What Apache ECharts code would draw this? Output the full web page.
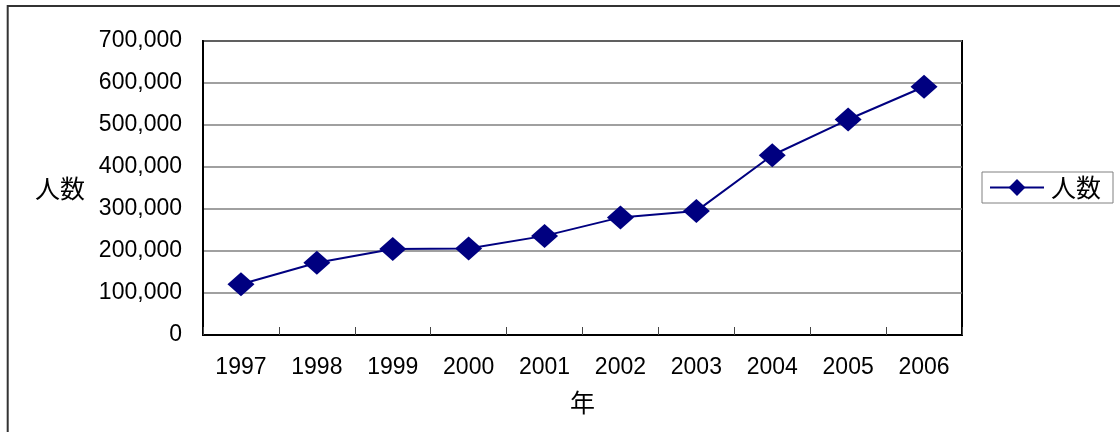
<!DOCTYPE html>
<html>
<head>
<meta charset="utf-8">
<script src="https://cdn.jsdelivr.net/npm/echarts@6/dist/echarts.min.js"></script>
<style>
  html, body { margin: 0; padding: 0; background: #fff; }
  #chart { width: 1120px; height: 432px; }
</style>
</head>
<body>
<div id="chart"></div>
<script>
// 年別の人数
const years = ['1997', '1998', '1999', '2000', '2001', '2002', '2003', '2004', '2005', '2006'];
const people = [121000, 172000, 205000, 206000, 236000, 280000, 295000, 428000, 513000, 591000];
const seriesName = '人数';
const xTitle = '年';
const yTitle = '人数';

const FONT = '"Liberation Sans", Arial, "Noto Sans CJK JP", sans-serif';
const CJK_FONT = '"Noto Sans CJK JP", sans-serif';
const NAVY = '#000080';

const chart = echarts.init(document.getElementById('chart'), null, { renderer: 'canvas' });

chart.setOption({
  backgroundColor: '#ffffff',
  animation: false,
  textStyle: { fontFamily: FONT, color: '#000' },
  graphic: [{
    type: 'rect',
    shape: { x: 7.7, y: 6, width: 1300, height: 600 },
    style: { fill: 'none', stroke: '#333', lineWidth: 2 },
    silent: true,
    z: -1
  }],
  grid: {
    left: 203, top: 41, right: 158, bottom: 97,
    show: true,
    borderColor: '#000',
    borderWidth: 2,
    backgroundColor: 'transparent'
  },
  legend: {
    data: [seriesName],
    left: 982,
    top: 172,
    orient: 'vertical',
    padding: [3, 12, 3, 7],
    itemWidth: 54,
    itemHeight: 21,
    itemGap: 0,
    borderColor: '#808080',
    borderWidth: 1,
    backgroundColor: '#fff',
    textStyle: { fontSize: 25, fontFamily: CJK_FONT, color: '#000', padding: [0, 0, 0, 2] }
  },
  xAxis: {
    type: 'category',
    data: years,
    boundaryGap: true,
    name: xTitle,
    nameLocation: 'middle',
    nameGap: 55,
    nameTextStyle: { fontSize: 25, fontFamily: CJK_FONT, color: '#000' },
    axisLine: { lineStyle: { color: '#000', width: 2 } },
    axisTick: { show: true, inside: true, length: 8, lineStyle: { color: '#444', width: 1 } },
    axisLabel: { fontSize: 23, color: '#000', margin: 21, fontFamily: FONT },
    splitLine: { show: false }
  },
  yAxis: {
    type: 'value',
    min: 0,
    max: 700000,
    interval: 100000,
    name: yTitle,
    nameLocation: 'middle',
    nameRotate: 0,
    nameGap: 118,
    nameTextStyle: { fontSize: 25, fontFamily: CJK_FONT, color: '#000' },
    axisLine: { show: true, lineStyle: { color: '#000', width: 2 } },
    axisTick: { show: false },
    axisLabel: {
      fontSize: 23,
      color: '#000',
      margin: 21,
      fontFamily: FONT,
      formatter: v => v.toLocaleString('en-US')
    },
    splitLine: { show: true, lineStyle: { color: '#808080', width: 1.5 } }
  },
  series: [{
    name: seriesName,
    type: 'line',
    data: people,
    symbol: 'diamond',
    symbolSize: [27, 24],
    itemStyle: { color: NAVY },
    lineStyle: { color: NAVY, width: 2 },
    z: 5
  }]
});
</script>
</body>
</html>
